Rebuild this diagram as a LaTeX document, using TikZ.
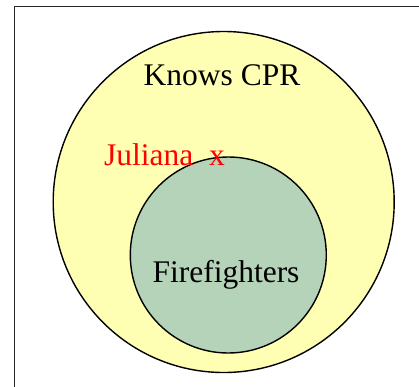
\documentclass[tikz,border=0pt]{standalone}
\usepackage{fontspec}
\setmainfont{Liberation Serif}
\usetikzlibrary{positioning}
\definecolor{cprfill}{RGB}{255,255,180}
\definecolor{firefill}{RGB}{180,211,184}
\tikzset{
    setcirc/.style = {draw, circle, line width=1.4bp, inner sep=0pt},
    setlabel/.style = {font=\fontsize{31.5bp}{36bp}\selectfont, anchor=base, inner sep=0pt},
    frame/.style = {draw=black!85, line width=1.6bp}
}

\begin{document}
\begin{tikzpicture}[x=1bp, y=-1bp]
        \useasboundingbox (0,0) rectangle (419,387);
        \clip (0,0) rectangle (419,387);
        \fill[white] (0,0) rectangle (419,387);
        \draw[frame] (14.5,6.5) rectangle (440,400);
        \node [setcirc, fill=cprfill, minimum size=341bp] (cpr) at (223.7,202) {};
        \node [setcirc, fill=firefill, minimum size=196bp] (fire) at (228.3,255) {};
        \node [setlabel] (cprlab) at (222,85) {Knows CPR};
        \node [setlabel] (firelab) at (226,282.7) {Firefighters};
        \node [setlabel, anchor=base west, text=red] (jul) at (104,165.7) {Juliana~~x};
    \end{tikzpicture}
\end{document}
